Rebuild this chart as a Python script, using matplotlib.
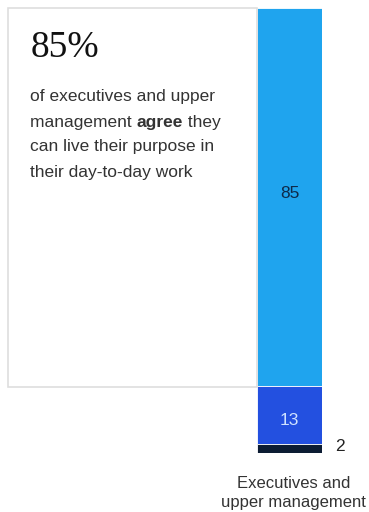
import matplotlib.pyplot as plt
from matplotlib.patches import Rectangle

W, H = 369, 512

segments = ["agree", "neutral", "disagree"]
values = [85, 13, 2]
colors = ["#1fa4ee", "#2350e0", "#0c1c33"]
label_colors = ["#0e2a4a", "#cfe2ff", "#222222"]
category = "Executives and\nupper management"

headline = "85%"
body_lines = [
    [("of executives and upper", "normal")],
    [("management ", "normal"), ("agree", "bold"), (" they", "normal")],
    [("can live their purpose in", "normal")],
    [("their day-to-day work", "normal")],
]

fig = plt.figure(figsize=(W / 100, H / 100), dpi=100)
fig.patch.set_facecolor("white")


def fx(px):
    return px / W


def fy(py):
    return 1 - py / H


# callout box on the left, closed by the bar on its right
box = Rectangle((fx(8), fy(387)), fx(257) - fx(8), fy(8) - fy(387),
                transform=fig.transFigure, facecolor="white",
                edgecolor="#dedede", linewidth=1.2, zorder=0)
fig.patches.append(box)

# stacked bar
ax = fig.add_axes([fx(257), fy(453), fx(322) - fx(257), fy(8) - fy(453)])
bottom = 100
for val, col in zip(values, colors):
    bottom -= val
    ax.bar(0, val, bottom=bottom, width=1, color=col, edgecolor="white",
           linewidth=0.6)
ax.set_xlim(-0.5, 0.5)
ax.set_ylim(0, 100)
ax.axis("off")

# value labels: big segment label sits above its middle
ax.text(0, 58.4, str(values[0]), ha="center", va="center",
        fontsize=12.5, color=label_colors[0], family="Liberation Sans")
ax.text(0, values[2] + values[1] / 2 - 1.1, str(values[1]), ha="center",
        va="center", fontsize=12.5, color=label_colors[1],
        family="Liberation Sans")
ax.text(0.78, values[2] / 2 + 0.4, str(values[2]), ha="center", va="center",
        fontsize=12.5, color=label_colors[2], family="Liberation Sans")

ax.text(0.06, -5.2, category, ha="center", va="top", fontsize=12,
        color="#333333", family="Liberation Sans", linespacing=1.3)

# headline and description
fig.text(fx(31), fy(48), headline, ha="left", va="center", fontsize=27,
         family="Liberation Serif", color="#111111")

fig.canvas.draw()
renderer = fig.canvas.get_renderer()
y0 = 97
for row in body_lines:
    x = fx(30)
    for txt, weight in row:
        t = fig.text(x, fy(y0), txt, ha="left", va="center", fontsize=12.5,
                     family="Liberation Sans", weight=weight, color="#333333")
        bb = t.get_window_extent(renderer)
        x += bb.width / W
    y0 += 25

fig.savefig("out.png", dpi=100)
